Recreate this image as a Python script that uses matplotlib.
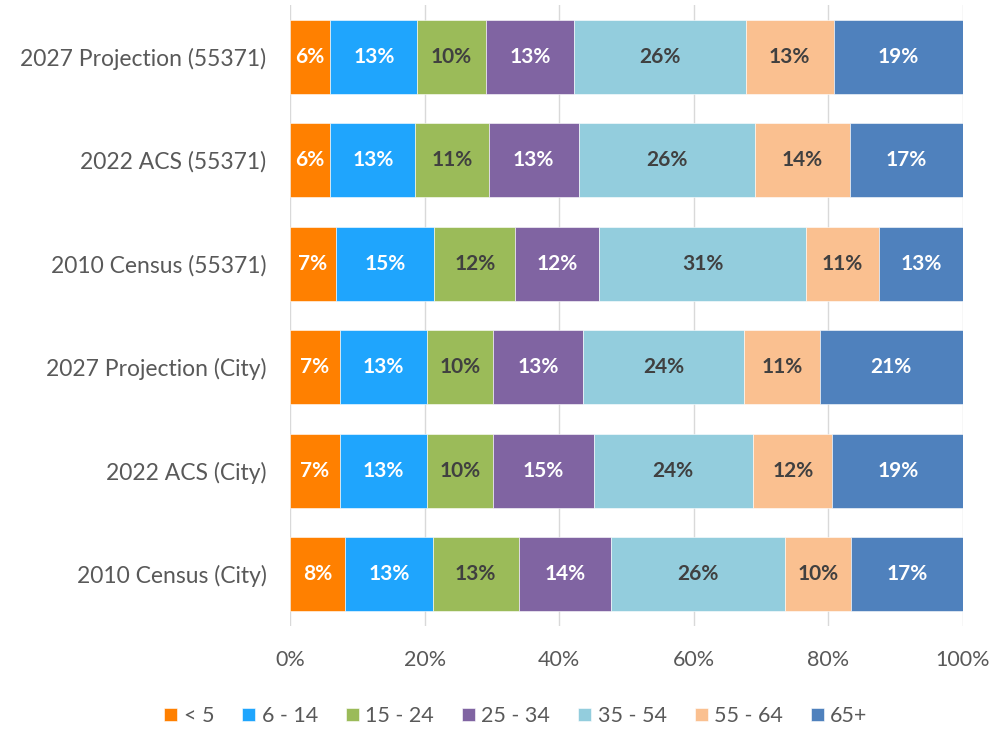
import matplotlib
matplotlib.use("Agg")
import matplotlib.pyplot as plt
import numpy as np

categories = ["2027 Projection (55371)", "2022 ACS (55371)", "2010 Census (55371)",
              "2027 Projection (City)", "2022 ACS (City)", "2010 Census (City)"]
age_groups = ["< 5", "6 - 14", "15 - 24", "25 - 34", "35 - 54", "55 - 64", "65+"]

under5 = [6.0, 6.0, 6.8, 7.4, 7.4, 8.2]
age6_14 = [12.9, 12.6, 14.6, 12.9, 12.9, 13.0]
age15_24 = [10.2, 10.9, 12.1, 9.9, 9.9, 12.8]
age25_34 = [13.1, 13.4, 12.4, 13.4, 14.9, 13.7]
age35_54 = [25.5, 26.2, 30.8, 23.9, 23.7, 25.8]
age55_64 = [13.1, 14.1, 10.8, 11.2, 11.8, 9.9]
age65p = [19.2, 16.8, 12.5, 21.3, 19.4, 16.6]

series = [under5, age6_14, age15_24, age25_34, age35_54, age55_64, age65p]
colors = ["#FF8000", "#1FA5FD", "#9BBB59", "#8064A2", "#93CDDD", "#FAC090", "#4F81BD"]
label_colors = ["white", "white", "#404040", "white", "#404040", "#404040", "white"]

plt.rcParams['font.family'] = ['Lato', 'DejaVu Sans']

fig = plt.figure(figsize=(9.98, 7.3), dpi=100)
ax = fig.add_axes([290/998, 1-626/730, 673/998, 621/730])

y = np.arange(len(categories))
left = np.zeros(len(categories))
for vals, col, lc, name in zip(series, colors, label_colors, age_groups):
    vals = np.array(vals)
    ax.barh(y, vals, left=left, height=0.715, color=col, label=name,
            edgecolor="white", linewidth=0.4, zorder=3)
    for yi, l, v in zip(y, left, vals):
        ax.text(l + v/2, yi, f"{int(v + 0.5):d}%", ha="center", va="center",
                color=lc, fontsize=15, fontweight="bold", zorder=4)
    left += vals

ax.set_xlim(0, 100)
ax.set_ylim(len(categories) - 0.5, -0.5)
ax.set_yticks(y)
ax.set_yticklabels(categories, fontsize=16.5, color="#595959")
ax.set_xticks(np.arange(0, 101, 20))
ax.set_xticklabels([f"{t}%" for t in range(0, 101, 20)], fontsize=15.5, color="#595959")
ax.tick_params(axis="y", length=0, pad=17)
ax.tick_params(axis="x", length=0, pad=17)
ax.grid(axis="x", color="#D9D9D9", linewidth=1, zorder=0)
for s in ax.spines.values():
    s.set_visible(False)

handles, labels = ax.get_legend_handles_labels()
fig.legend(handles, labels, loc="center", bbox_to_anchor=(516/998, 1-716/730),
           ncol=7, frameon=False, fontsize=15.5, handlelength=0.6, handleheight=0.6,
           handletextpad=0.3, columnspacing=1.3, labelcolor="#595959")

fig.savefig("out.png", dpi=100)
